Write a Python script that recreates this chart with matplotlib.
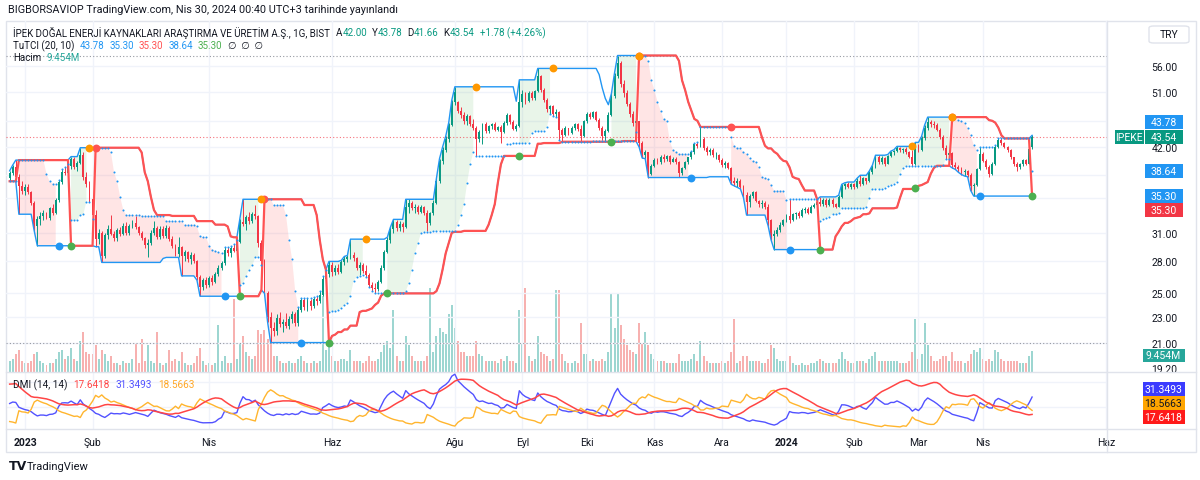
import numpy as np
import pandas as pd
import matplotlib
matplotlib.use("Agg")
import matplotlib.pyplot as plt
from matplotlib.lines import Line2D
from matplotlib.patches import Rectangle, FancyBboxPatch
from matplotlib.ticker import FixedLocator, NullLocator, FuncFormatter

plt.rcParams['font.family'] = ['Roboto', 'DejaVu Sans']

# IPEKE daily bars, 26.12.2022 - 29.04.2024
opens = [37.6, 38.3, 39.1, 37.8, 36.6, 35.9, 36.5, 35.8, 34.5, 31.8,
         32.5, 32.9, 33.2, 32.7, 33.8, 33.3, 34.8, 37.1, 38.5, 38.3,
         39.3, 40.2, 39.2, 39.7, 40.9, 37.8, 36.9, 34.9, 33.0, 30.3,
         31.0, 28.5, 30.8, 31.4, 30.9, 30.4, 31.3, 30.9, 31.8, 31.0,
         31.8, 32.1, 31.6, 31.0, 30.4, 29.7, 29.9, 31.0, 31.5, 30.5,
         31.4, 30.6, 31.5, 30.3, 29.6, 28.7, 29.5, 28.5, 28.9, 28.2,
         28.6, 28.0, 26.5, 25.6, 26.2, 25.8, 26.4, 26.0, 26.8, 27.4,
         27.8, 29.2, 28.8, 29.4, 29.1, 30.0, 32.2, 32.0, 32.8, 32.3,
         33.1, 32.9, 29.9, 28.0, 25.0, 23.0, 22.1, 21.9, 22.9, 22.4,
         22.6, 22.3, 22.8, 23.2, 22.5, 23.6, 24.4, 23.8, 24.3, 23.9,
         24.5, 24.3, 24.9, 26.3, 26.8, 27.6, 27.0, 27.4, 27.0, 27.9,
         28.2, 28.4, 28.6, 28.3, 27.4, 27.6, 27.1, 26.7, 25.8, 25.5,
         25.4, 26.0, 27.4, 29.0, 30.2, 31.4, 32.2, 31.5, 32.0, 31.6,
         33.9, 34.5, 33.8, 34.0, 33.4, 33.9, 33.3, 32.1, 33.2, 34.5,
         37.2, 40.0, 41.6, 43.2, 45.4, 49.2, 49.3, 47.8, 47.0, 46.0,
         46.9, 45.5, 44.9, 43.2, 44.3, 45.6, 44.5, 45.2, 45.6, 44.6,
         45.1, 44.3, 45.7, 47.1, 45.9, 44.8, 45.3, 49.3, 50.7, 49.4,
         50.9, 49.9, 51.2, 54.0, 51.4, 49.6, 48.0, 48.5, 47.2, 47.6,
         44.6, 43.8, 44.9, 44.2, 45.0, 45.5, 44.7, 43.7, 46.1, 47.3,
         46.7, 47.5, 46.3, 44.9, 43.6, 44.5, 47.1, 50.4, 54.0, 56.5,
         52.6, 50.8, 49.0, 47.2, 45.8, 46.0, 42.6, 40.9, 41.2, 38.2,
         39.3, 40.1, 39.8, 40.6, 40.2, 40.7, 39.9, 40.3, 39.8, 38.3,
         39.0, 39.8, 40.5, 41.2, 42.4, 42.2, 43.2, 41.9, 41.3, 41.5,
         40.8, 40.9, 40.1, 39.4, 39.7, 39.0, 37.3, 37.0, 37.3, 36.5,
         35.4, 34.6, 35.3, 35.8, 34.7, 34.3, 34.5, 33.9, 32.4, 30.6,
         30.9, 31.3, 31.9, 32.4, 32.9, 32.4, 33.1, 33.3, 32.9, 33.6,
         33.7, 33.3, 34.0, 34.2, 34.6, 34.3, 34.8, 34.2, 34.8, 34.3,
         34.0, 35.2, 36.6, 36.9, 36.5, 36.8, 36.4, 37.3, 36.9, 37.6,
         37.2, 38.4, 39.2, 40.5, 39.8, 40.4, 39.6, 40.7, 41.2, 41.4,
         41.9, 41.5, 41.7, 41.2, 40.6, 39.6, 42.3, 41.6, 43.3, 45.0,
         45.9, 45.6, 45.4, 44.6, 43.5, 41.9, 40.9, 41.1, 39.4, 39.1,
         38.9, 38.4, 38.6, 38.0, 36.6, 36.7, 38.8, 41.0, 40.0, 39.1,
         38.2, 39.6, 42.0, 43.0, 42.6, 42.0, 41.5, 40.5, 39.6, 39.1,
         39.5, 40.1, 39.6, 42.00]
highs = [38.6, 39.4, 40.1, 38.2, 37.2, 36.8, 36.9, 36.0, 34.7, 32.9,
         33.4, 33.6, 33.4, 34.0, 34.3, 35.0, 37.4, 38.8, 39.2, 39.6,
         40.6, 40.5, 40.0, 41.9, 41.2, 38.4, 37.2, 35.2, 33.6, 31.4,
         31.2, 31.0, 31.9, 33.0, 31.2, 31.5, 31.6, 32.1, 32.2, 32.0,
         32.4, 32.9, 31.8, 31.2, 30.5, 30.3, 31.3, 32.3, 31.7, 31.7,
         31.8, 31.9, 31.7, 30.6, 29.8, 30.5, 29.6, 29.2, 29.1, 28.9,
         28.8, 28.1, 26.7, 26.4, 26.5, 26.6, 26.7, 27.0, 27.6, 28.0,
         29.5, 29.5, 29.6, 29.8, 30.2, 32.6, 34.9, 33.0, 33.4, 33.4,
         34.2, 33.0, 30.2, 28.2, 25.2, 23.4, 22.6, 23.2, 23.4, 22.8,
         23.3, 23.1, 23.5, 23.4, 23.8, 24.6, 24.6, 24.6, 24.5, 24.7,
         24.8, 25.2, 26.6, 27.2, 28.0, 27.9, 27.6, 27.7, 28.1, 28.5,
         28.6, 30.3, 29.0, 28.4, 27.9, 27.8, 27.6, 26.9, 26.0, 25.9,
         26.2, 27.6, 29.2, 30.5, 31.6, 32.5, 32.4, 32.3, 32.2, 34.9,
         34.9, 34.7, 34.3, 34.2, 34.2, 34.1, 33.6, 33.4, 34.8, 37.6,
         40.3, 42.0, 43.6, 45.8, 49.6, 52.0, 49.4, 48.4, 47.6, 47.2,
         47.0, 46.4, 45.2, 44.6, 45.8, 45.9, 45.4, 45.8, 45.9, 45.3,
         45.4, 46.0, 47.4, 47.3, 46.2, 45.5, 53.3, 51.4, 51.0, 51.3,
         51.2, 51.5, 55.5, 54.3, 51.8, 49.9, 48.8, 48.7, 48.0, 47.8,
         45.0, 45.2, 45.0, 45.3, 45.8, 45.7, 45.4, 46.3, 47.6, 47.6,
         47.8, 47.7, 46.5, 45.2, 44.8, 47.5, 50.8, 54.6, 58.1, 57.0,
         53.2, 51.4, 49.3, 47.8, 46.4, 46.1, 42.9, 41.6, 41.3, 39.6,
         40.4, 40.4, 40.8, 41.0, 40.9, 40.9, 40.5, 40.5, 40.0, 39.2,
         40.0, 40.6, 41.4, 42.6, 42.8, 45.1, 43.5, 42.2, 41.8, 41.8,
         41.3, 41.0, 40.4, 40.0, 39.9, 39.1, 37.8, 37.6, 37.5, 36.7,
         35.8, 35.6, 36.0, 36.0, 34.8, 34.8, 34.7, 34.3, 32.6, 31.3,
         31.6, 32.2, 32.6, 33.1, 34.9, 33.3, 33.4, 33.5, 33.8, 33.9,
         33.9, 34.2, 34.4, 34.7, 35.2, 35.0, 35.0, 35.0, 35.0, 34.5,
         35.4, 36.8, 37.0, 37.1, 37.0, 37.0, 37.6, 38.0, 37.8, 37.7,
         38.6, 39.4, 40.8, 40.8, 40.7, 40.5, 40.9, 41.4, 41.6, 42.1,
         42.0, 41.9, 42.0, 41.4, 41.6, 42.7, 42.5, 43.6, 45.4, 46.7,
         46.2, 46.1, 45.8, 45.0, 43.8, 42.3, 41.6, 41.3, 39.8, 39.4,
         39.2, 38.9, 38.7, 38.3, 37.0, 39.0, 42.0, 41.2, 40.2, 39.4,
         39.8, 42.3, 43.3, 43.3, 42.8, 42.2, 41.7, 40.6, 39.8, 39.7,
         40.3, 40.3, 41.9, 43.78]
lows = [37.2, 38.0, 37.4, 33.1, 35.6, 35.4, 35.6, 34.2, 31.2, 29.6,
        31.9, 32.4, 32.5, 32.4, 33.0, 33.1, 34.6, 36.9, 38.0, 38.0,
        38.9, 38.9, 38.6, 39.5, 37.4, 36.4, 34.6, 32.6, 29.5, 29.8,
        27.9, 28.3, 30.3, 30.7, 30.1, 30.1, 30.6, 30.8, 30.8, 30.8,
        31.5, 31.4, 30.8, 30.2, 29.4, 28.4, 29.7, 30.7, 30.3, 30.3,
        30.4, 30.4, 30.1, 29.4, 28.5, 28.4, 26.6, 28.0, 27.9, 27.7,
        27.8, 26.2, 24.75, 25.3, 25.5, 25.6, 25.8, 25.9, 26.6, 27.2,
        27.6, 28.5, 28.4, 28.9, 28.8, 29.9, 31.8, 31.3, 32.0, 32.1,
        32.6, 29.5, 27.6, 25.0, 22.6, 21.0, 21.5, 21.6, 22.2, 21.8,
        22.1, 22.0, 22.5, 22.3, 22.3, 23.4, 23.6, 23.5, 23.6, 23.7,
        24.0, 24.2, 24.8, 26.1, 26.5, 26.6, 26.7, 26.8, 26.9, 27.6,
        27.9, 28.2, 28.0, 27.2, 26.7, 26.9, 26.5, 25.6, 25.2, 25.0,
        25.2, 25.9, 27.2, 28.8, 29.9, 31.0, 31.2, 31.2, 31.1, 31.5,
        33.3, 33.6, 33.2, 33.1, 33.2, 33.0, 31.2, 31.9, 33.0, 34.3,
        37.0, 39.5, 41.2, 42.8, 45.2, 48.8, 47.4, 46.6, 45.6, 45.4,
        45.2, 44.6, 40.7, 42.8, 42.5, 44.2, 44.2, 44.7, 44.4, 44.4,
        42.6, 44.1, 45.4, 45.6, 44.6, 44.5, 45.1, 48.4, 49.0, 49.2,
        49.6, 49.7, 51.0, 51.0, 49.2, 47.6, 47.3, 46.9, 46.8, 43.0,
        42.8, 43.6, 43.8, 44.0, 44.6, 44.4, 42.9, 43.5, 45.8, 46.4,
        46.5, 46.1, 44.6, 43.1, 42.9, 44.3, 46.9, 50.0, 53.6, 52.0,
        50.2, 48.6, 46.8, 45.2, 44.9, 42.0, 40.4, 40.3, 37.7, 38.0,
        39.1, 39.5, 39.6, 39.9, 40.0, 39.6, 39.8, 39.6, 37.8, 38.1,
        38.8, 39.6, 40.3, 41.0, 41.9, 42.0, 41.6, 40.8, 40.9, 40.6,
        40.2, 39.9, 39.2, 39.0, 38.8, 36.8, 36.6, 36.4, 36.2, 35.1,
        33.0, 34.0, 35.0, 34.6, 34.0, 33.8, 33.7, 31.8, 30.2, 29.2,
        30.6, 31.1, 31.7, 32.2, 32.1, 32.3, 32.6, 32.7, 32.8, 33.2,
        33.1, 33.2, 33.8, 34.0, 34.1, 34.1, 34.0, 34.1, 34.0, 33.8,
        33.9, 35.1, 36.2, 36.3, 36.2, 36.2, 36.3, 36.6, 36.7, 36.9,
        37.1, 38.2, 39.0, 39.6, 39.6, 39.3, 39.5, 40.6, 40.9, 41.2,
        41.3, 41.1, 41.0, 40.4, 39.3, 39.4, 41.2, 41.4, 43.1, 44.6,
        45.1, 45.0, 44.4, 43.2, 41.6, 40.3, 40.4, 39.0, 38.8, 38.4,
        38.1, 37.9, 37.8, 36.0, 35.3, 36.6, 38.7, 39.8, 38.8, 37.8,
        38.0, 39.4, 41.8, 42.3, 41.8, 41.2, 40.2, 39.3, 38.64, 38.9,
        39.3, 39.4, 39.5, 41.66]
closes = [38.3, 39.1, 37.8, 36.6, 35.9, 36.5, 35.8, 34.5, 31.8, 32.5,
          32.9, 33.2, 32.7, 33.8, 33.3, 34.8, 37.1, 38.5, 38.3, 39.3,
          40.2, 39.2, 39.7, 40.9, 37.8, 36.9, 34.9, 33.0, 30.3, 31.0,
          28.5, 30.8, 31.4, 30.9, 30.4, 31.3, 30.9, 31.8, 31.0, 31.8,
          32.1, 31.6, 31.0, 30.4, 29.7, 29.9, 31.0, 31.5, 30.5, 31.4,
          30.6, 31.5, 30.3, 29.6, 28.7, 29.5, 28.5, 28.9, 28.2, 28.6,
          28.0, 26.5, 25.6, 26.2, 25.8, 26.4, 26.0, 26.8, 27.4, 27.8,
          29.2, 28.8, 29.4, 29.1, 30.0, 32.2, 32.0, 32.8, 32.3, 33.1,
          32.9, 29.9, 28.0, 25.5, 23.0, 22.1, 21.9, 22.9, 22.4, 22.6,
          22.3, 22.8, 23.2, 22.5, 23.6, 24.4, 23.8, 24.3, 23.9, 24.5,
          24.3, 24.9, 26.3, 26.8, 27.6, 27.0, 27.4, 27.0, 27.9, 28.2,
          28.4, 28.6, 28.3, 27.4, 27.6, 27.1, 26.7, 25.8, 25.5, 25.4,
          26.0, 27.4, 29.0, 30.2, 31.4, 32.2, 31.5, 32.0, 31.6, 33.9,
          34.5, 33.8, 34.0, 33.4, 33.9, 33.3, 32.1, 33.2, 34.5, 37.2,
          40.0, 41.6, 43.2, 45.4, 49.2, 51.0, 47.8, 47.0, 46.0, 46.9,
          45.5, 44.9, 43.2, 44.3, 45.6, 44.5, 45.2, 45.6, 44.6, 45.1,
          44.3, 45.7, 47.1, 45.9, 44.8, 45.3, 49.3, 50.7, 49.4, 50.9,
          49.9, 51.2, 54.0, 51.4, 49.6, 48.0, 48.5, 47.2, 47.6, 44.6,
          43.8, 44.9, 44.2, 45.0, 45.5, 44.7, 43.7, 46.1, 47.3, 46.7,
          47.5, 46.3, 44.9, 43.6, 44.5, 47.1, 50.4, 54.0, 56.5, 52.6,
          50.8, 49.0, 47.2, 45.8, 46.0, 42.6, 40.9, 41.2, 38.2, 39.3,
          40.1, 39.8, 40.6, 40.2, 40.7, 39.9, 40.3, 39.8, 38.3, 39.0,
          39.8, 40.5, 41.2, 42.4, 42.2, 43.2, 41.9, 41.3, 41.5, 40.8,
          40.9, 40.1, 39.4, 39.7, 39.0, 37.3, 37.0, 37.3, 36.5, 35.4,
          34.6, 35.3, 35.8, 34.7, 34.3, 34.5, 33.9, 32.4, 30.6, 30.9,
          31.3, 31.9, 32.4, 32.9, 32.4, 33.1, 33.3, 32.9, 33.6, 33.7,
          33.3, 34.0, 34.2, 34.6, 34.3, 34.8, 34.2, 34.8, 34.3, 34.0,
          35.2, 36.6, 36.9, 36.5, 36.8, 36.4, 37.3, 36.9, 37.6, 37.2,
          38.4, 39.2, 40.5, 39.8, 40.4, 39.6, 40.7, 41.2, 41.4, 41.9,
          41.5, 41.7, 41.2, 40.6, 39.6, 42.3, 41.6, 43.3, 45.0, 45.9,
          45.6, 45.4, 44.6, 43.5, 41.9, 40.9, 41.1, 39.4, 39.1, 38.9,
          38.4, 38.6, 38.0, 36.6, 36.7, 38.8, 41.0, 40.0, 39.1, 38.2,
          39.6, 42.0, 43.0, 42.6, 42.0, 41.5, 40.5, 39.6, 39.1, 39.5,
          40.1, 39.6, 41.76, 43.54]
# volume in millions
volumes = [5, 6, 8, 10, 5, 4, 4, 5, 8, 9,
           5, 4, 3, 4, 4, 6, 9, 10, 6, 7,
           11, 6, 5, 14, 18, 9, 8, 8, 12, 6,
           10, 8, 5, 7, 4, 4, 3, 5, 4, 4,
           6, 13, 4, 15, 5, 12, 5, 4, 18, 4,
           3, 4, 10, 5, 6, 5, 9, 4, 3, 3,
           4, 7, 11, 5, 3, 4, 3, 4, 21, 5,
           7, 4, 4, 33, 6, 13, 16, 9, 7, 6,
           7, 19, 17, 19, 15, 13, 7, 7, 5, 4,
           4, 5, 4, 4, 6, 7, 5, 4, 4, 5,
           4, 5, 34, 10, 12, 7, 5, 5, 6, 6,
           5, 10, 5, 5, 5, 4, 5, 7, 5, 5,
           6, 9, 12, 14, 11, 28, 7, 5, 5, 16,
           12, 7, 5, 5, 5, 5, 7, 38, 9, 16,
           20, 18, 17, 26, 30, 20, 14, 9, 9, 7,
           7, 7, 14, 8, 7, 5, 5, 5, 5, 4,
           6, 5, 7, 5, 5, 4, 28, 13, 38, 7,
           5, 6, 16, 9, 8, 7, 5, 6, 37, 37,
           8, 5, 4, 4, 5, 4, 22, 8, 8, 5,
           6, 5, 5, 6, 5, 9, 35, 20, 35, 21,
           15, 12, 10, 9, 8, 22, 13, 18, 12, 8,
           6, 5, 5, 5, 4, 4, 4, 4, 8, 5,
           5, 5, 6, 8, 5, 14, 7, 5, 4, 4,
           4, 4, 5, 4, 5, 9, 24, 4, 5, 7,
           7, 5, 5, 5, 5, 4, 4, 6, 12, 11,
           6, 5, 5, 5, 7, 4, 3, 3, 4, 3,
           3, 4, 4, 5, 6, 5, 4, 4, 4, 4,
           6, 9, 6, 5, 4, 4, 5, 5, 5, 4,
           6, 7, 9, 5, 5, 5, 5, 5, 5, 5,
           4, 4, 4, 5, 9, 24, 6, 8, 22, 12,
           7, 5, 5, 6, 7, 7, 5, 9, 5, 5,
           5, 4, 5, 8, 10, 9, 11, 6, 5, 6,
           5, 10, 9, 6, 5, 5, 5, 5, 5, 4,
           4, 4, 7, 9.454]

# DMI levels at the left edge of the chart (ADX, +DI, -DI)
dmi_start = [48, 30, 11]

holidays = ["2023-02-08", "2023-02-09", "2023-02-10", "2023-02-13", "2023-02-14",
            "2023-04-21", "2023-05-01", "2023-05-19", "2023-06-28", "2023-06-29",
            "2023-06-30", "2023-08-30", "2024-01-01", "2024-04-10", "2024-04-11",
            "2024-04-12", "2024-04-23", "2024-05-01"]
time_labels = ["2023", "Şub", "Nis", "Haz", "Ağu", "Eyl", "Eki", "Kas", "Ara",
               "2024", "Şub", "Mar", "Nis", "Haz"]
time_months = ["2023-01", "2023-02", "2023-04", "2023-06", "2023-08", "2023-09",
               "2023-10", "2023-11", "2023-12", "2024-01", "2024-02", "2024-03",
               "2024-04", "2024-06"]
price_ticks = [56, 51, 46, 42, 38, 35, 31, 28, 25, 23, 21, 19.2]
hidden_ticks = [46, 38, 35]   # labels covered by the price tags

published = "BIGBORSAVIOP TradingView.com, Nis 30, 2024 00:40 UTC+3 tarihinde yayınlandı"
title = "İPEK DOĞAL ENERJİ KAYNAKLARI ARAŞTIRMA VE ÜRETİM A.Ş., 1G, BIST"
ohlc_text = [("A", "42.00"), ("Y", "43.78"), ("D", "41.66"), ("K", "43.54")]
change_text = "+1.78 (+4.26%)"
tutci_text = ["43.78", "35.30", "35.30", "38.64", "35.30"]
dmi_text = ["17.6418", "31.3493", "18.5663"]
volume_text = "9.454M"

DARK = '#131722'
UP, DOWN = '#089981', '#f23645'
BLUE, RED, GREEN, ORANGE = '#2196F3', '#FF5252', '#4CAF50', '#FF9800'
DI_PLUS, DI_MINUS, ADX_C = '#5252ff', '#ffb52e', '#ff4545'

O = np.array(opens)
Hh = np.array(highs)
Ll = np.array(lows)
Cc = np.array(closes)
V = np.array(volumes)
n = len(Cc)
x = np.arange(n)

# trading calendar -> positions of month labels
days = pd.bdate_range("2022-12-26", "2024-06-30")
days = days[~days.isin(pd.to_datetime(holidays))]
tick_pos = [days.searchsorted(pd.Timestamp(m + "-01")) for m in time_months]


def prev(a):
    return np.r_[np.nan, a[:-1]]


def barssince(cond):
    out = np.zeros(len(cond))
    last = -10 ** 6
    for i, c in enumerate(cond):
        if c:
            last = i
        out[i] = i - last
    return out


# TuTCI (20, 10)
up = pd.Series(Hh).rolling(20, min_periods=1).max().values
dn = pd.Series(Ll).rolling(20, min_periods=1).min().values
sup = pd.Series(Hh).rolling(10, min_periods=1).max().values
sdn = pd.Series(Ll).rolling(10, min_periods=1).min().values
up1, dn1, su1, sd1 = prev(up), prev(dn), prev(sup), prev(sdn)

with np.errstate(invalid='ignore'):
    trend_up = barssince(Hh >= up1) <= barssince(Ll <= dn1)
    buy_sig = (Hh == up1) | ((Hh > up1) & (prev(Hh) <= prev(up1)))
    sell_sig = (Ll == dn1) | ((dn1 > Ll) & (prev(dn1) <= prev(Ll)))
    buy_exit = (Ll == sd1) | ((sd1 > Ll) & (prev(sd1) <= prev(Ll)))
    sell_exit = (Hh == su1) | ((Hh > su1) & (prev(Hh) <= prev(su1)))
    O1, O2, O3, O4 = barssince(buy_sig), barssince(sell_sig), barssince(buy_exit), barssince(sell_exit)
    long_entry = buy_sig & (O3 < prev(O1))
    short_entry = sell_sig & (O4 < prev(O2))
    long_exit = buy_exit & (O1 < prev(O3))
    short_exit = sell_exit & (O2 < prev(O4))
K1 = np.where(trend_up, dn, up)
K2 = np.where(trend_up, sdn, sup)
long_on = O1 < O3
short_on = O2 < O4

# DMI (14, 14), Wilder smoothing seeded with the levels seen at the left edge
c1 = np.r_[Cc[0], Cc[:-1]]
tr = np.maximum(Hh - Ll, np.maximum(abs(Hh - c1), abs(Ll - c1)))
um = np.nan_to_num(Hh - prev(Hh))
dm = np.nan_to_num(prev(Ll) - Ll)
pdm = np.where((um > dm) & (um > 0), um, 0.0)
mdm = np.where((dm > um) & (dm > 0), dm, 0.0)


def wilder(a, start):
    out = np.zeros(len(a))
    s = start
    for i, v in enumerate(a):
        s = s + (v - s) / 14
        out[i] = s
    return out


atr0 = tr[:14].mean()
atr = wilder(tr, atr0)
plus = 100 * wilder(pdm, dmi_start[1] / 100 * atr0) / atr
minus = 100 * wilder(mdm, dmi_start[2] / 100 * atr0) / atr
adx = wilder(100 * abs(plus - minus) / np.maximum(plus + minus, 1e-9), dmi_start[0])

# ---- figure
W, H = 1200, 481
fig = plt.figure(figsize=(W / 100, H / 100), dpi=100)
fig.patch.set_facecolor('white')


def fy(y):
    return 1 - y / H


ax = fig.add_axes([6 / W, fy(373), 1101 / W, 351 / H])
axd = fig.add_axes([6 / W, fy(430), 1101 / W, 56 / H])
axv = ax.twinx()
ax.set_zorder(axv.get_zorder() + 1)
ax.patch.set_visible(False)

xlim = (-1.19, 357.4)
for a in (ax, axd, axv):
    a.set_xlim(*xlim)
    for s in a.spines.values():
        s.set_visible(False)

# volume
vcol = np.where(Cc >= O, '#26a69a', '#ef5350')
axv.bar(x, V, width=0.65, color=vcol, alpha=0.45, linewidth=0)
axv.set_ylim(0, 158)
axv.axis('off')

ax.set_yscale('log')
ax.set_ylim(18.92, 65.66)
ax.yaxis.set_major_locator(FixedLocator(price_ticks))
ax.yaxis.set_minor_locator(NullLocator())
ax.yaxis.set_major_formatter(FuncFormatter(lambda v, p: '' if round(v, 1) in hidden_ticks else '%.2f' % v))
ax.yaxis.tick_right()
ax.tick_params(axis='y', length=0, pad=32, labelsize=7.5, labelcolor=DARK)
ax.tick_params(axis='x', bottom=False, labelbottom=False)
for t in price_ticks[:-1]:
    ax.axhline(t, color='#f0f3fa', lw=1, zorder=0)
for p in tick_pos:
    ax.axvline(p, color='#f0f3fa', lw=1, zorder=0)
    axd.axvline(p, color='#f0f3fa', lw=1, zorder=0)

# fills between channel and exit line
ax.fill_between(x, up, K2, where=long_on, color=GREEN, alpha=0.12, lw=0, zorder=1)
ax.fill_between(x, dn, K2, where=short_on, color=RED, alpha=0.15, lw=0, zorder=1)

# candles
ccol = np.where(Cc >= O, UP, DOWN)
ax.vlines(x, Ll, Hh, colors=ccol, lw=0.7, zorder=2)
body = np.maximum(abs(Cc - O), 0.04)
ax.bar(x, body, bottom=np.minimum(O, Cc), width=0.62, color=ccol, lw=0, zorder=2)

# channel, trend line, exit dots
ax.plot(x, up, color=BLUE, lw=1, zorder=3)
ax.plot(x, dn, color=BLUE, lw=1, zorder=3)
ax.plot(x, K1, color=RED, lw=1.6, zorder=3)
ax.scatter(x, K2, s=2.2, color=BLUE, lw=0, zorder=4)
ax.scatter(x[long_entry], dn[long_entry], s=32, color=GREEN, lw=0, zorder=5)
ax.scatter(x[short_entry], up[short_entry], s=32, color=RED, lw=0, zorder=5)
ax.scatter(x[long_exit], up[long_exit], s=32, color=ORANGE, lw=0, zorder=5)
ax.scatter(x[short_exit], dn[short_exit], s=32, color=BLUE, lw=0, zorder=5)

# high / low / last price lines
ax.axhline(Hh.max(), color='#9598a1', lw=0.8, ls=(0, (1, 2)), zorder=1)
ax.axhline(Ll.min(), color='#9598a1', lw=0.8, ls=(0, (1, 2)), zorder=1)
ax.axhline(Cc[-1], color=DOWN, lw=0.8, ls=(0, (1, 2)), alpha=0.7, zorder=1)

# DMI pane
axd.plot(x, plus, color=DI_PLUS, lw=1)
axd.plot(x, minus, color=DI_MINUS, lw=1)
axd.plot(x, adx, color=ADX_C, lw=1.1)
axd.set_ylim(3, 59)
axd.axhline(25, color='#f0f3fa', lw=1, zorder=0)
axd.axhline(50, color='#f0f3fa', lw=1, zorder=0)
axd.set_yticks([])
axd.set_xticks(tick_pos)
axd.set_xticklabels(time_labels)
axd.tick_params(axis='x', length=0, pad=5.5, labelsize=7.5, labelcolor=DARK)
for lab in axd.get_xticklabels():
    if lab.get_text() in ('2023', '2024'):
        lab.set_fontweight('bold')

# frame and separators
line_c = '#e0e3eb'
fig.add_artist(Rectangle((6 / W, fy(453)), 1190 / W, 431 / H, fill=False, ec=line_c, lw=1,
                         transform=fig.transFigure))
for yy in (373, 430):
    fig.add_artist(Line2D([6 / W, 1196 / W], [fy(yy), fy(yy)], color=line_c, lw=1))
fig.add_artist(Line2D([1107 / W, 1107 / W], [fy(22), fy(453)], color=line_c, lw=1))


def tag(xc, yc, w, h, s, bg, fg='white'):
    fig.add_artist(Rectangle(((xc - w / 2) / W, fy(yc + h / 2)), w / W, h / H, fc=bg, ec='none',
                             transform=fig.transFigure, zorder=4))
    fig.text(xc / W, fy(yc), s, ha='center', va='center', fontsize=7.5, color=fg, zorder=5)


tag(1163.5, 123, 38, 14, tutci_text[0], BLUE)
tag(1129, 138, 29, 14, "IPEKE", UP)
tag(1163.5, 138, 38, 14, ohlc_text[3][1], UP)
tag(1163.5, 172, 38, 14, tutci_text[3], BLUE)
tag(1163.5, 197, 38, 14, tutci_text[1], BLUE)
tag(1163.5, 211, 38, 14, tutci_text[2], DOWN)
tag(1163.5, 356, 42, 13, volume_text, '#26a69a')
tag(1163.5, 390, 42, 14, dmi_text[1], '#3b3bff')
tag(1163.5, 404, 42, 14, dmi_text[2], '#ffa500', DARK)
tag(1163.5, 418, 42, 14, dmi_text[0], '#ff1a1a')

fig.add_artist(FancyBboxPatch((1149 / W, fy(44)), 40 / W, 17 / H,
                              boxstyle='round,pad=0,rounding_size=0.004', fc='white', ec=line_c,
                              lw=1, transform=fig.transFigure, zorder=4))
fig.text(1169 / W, fy(35.5), "TRY", ha='center', va='center', fontsize=7.5, color=DARK, zorder=5)

# legend texts
renderer = fig.canvas.get_renderer()


def run(xp, yp, parts, size=7):
    for s, c, gap in parts:
        t = fig.text(xp / W, fy(yp), s, color=c, fontsize=size, ha='left', va='center')
        xp += t.get_window_extent(renderer).width + gap
    return xp


run(8, 10, [(published, DARK, 0)], size=7.8)
parts = [(title, DARK, 6)]
for k_, v_ in ohlc_text:
    parts += [(k_, DARK, 0), (v_, UP, 5)]
parts.append((change_text, UP, 0))
run(13, 33, parts, size=7.0)
run(13, 46, [("TuTCI (20, 10)", DARK, 5), (tutci_text[0], BLUE, 5), (tutci_text[1], BLUE, 5),
             (tutci_text[2], RED, 5), (tutci_text[3], BLUE, 5), (tutci_text[4], GREEN, 6),
             ("∅  ∅  ∅", DARK, 0)])
run(13, 58, [("Hacim", DARK, 5), (volume_text, '#26a69a', 0)])
run(13, 385, [("DMI (14, 14)", DARK, 6), (dmi_text[0], ADX_C, 6), (dmi_text[1], DI_PLUS, 6),
              (dmi_text[2], '#ffa726', 0)], size=7.2)

fig.text(9 / W, fy(467), "TV", fontsize=9, fontweight='bold', color=DARK, va='center',
         family='DejaVu Sans')
fig.text(27 / W, fy(467), "TradingView", fontsize=8, color=DARK, va='center')

fig.savefig("out.png", dpi=100, facecolor='white')
